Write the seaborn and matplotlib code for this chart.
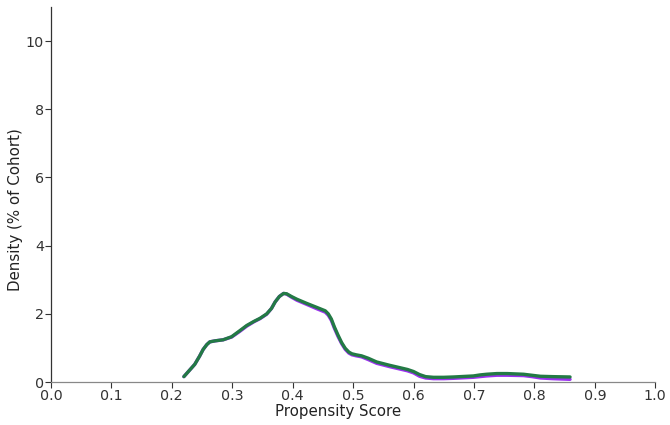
import matplotlib
matplotlib.use("Agg")
import matplotlib.pyplot as plt
import seaborn as sns
import pandas as pd

# Propensity score grid (x) and densities (% of cohort)
score = [0.220, 0.230, 0.238, 0.246, 0.252, 0.258, 0.263, 0.272, 0.285, 0.299,
         0.312, 0.324, 0.336, 0.346, 0.357, 0.365, 0.371, 0.378, 0.385, 0.390,
         0.398, 0.407, 0.423, 0.440, 0.454, 0.459, 0.464, 0.469, 0.475, 0.481,
         0.487, 0.493, 0.498, 0.505, 0.514, 0.525, 0.539, 0.561, 0.578, 0.590,
         0.600, 0.610, 0.620, 0.633, 0.650, 0.666, 0.699, 0.710, 0.721, 0.738,
         0.755, 0.782, 0.796, 0.810, 0.830, 0.859]
density_green = [0.16, 0.36, 0.52, 0.76, 0.96, 1.10, 1.18, 1.21, 1.24, 1.33,
                 1.50, 1.66, 1.78, 1.87, 2.00, 2.16, 2.35, 2.51, 2.60, 2.59,
                 2.51, 2.43, 2.31, 2.19, 2.09, 2.00, 1.85, 1.62, 1.38, 1.16,
                 0.99, 0.88, 0.83, 0.80, 0.77, 0.70, 0.59, 0.49, 0.42, 0.37,
                 0.31, 0.22, 0.16, 0.14, 0.14, 0.15, 0.18, 0.21, 0.23, 0.25,
                 0.25, 0.23, 0.20, 0.17, 0.16, 0.15]
density_purple = [0.16, 0.36, 0.52, 0.76, 0.96, 1.10, 1.18, 1.21, 1.24, 1.32,
                  1.48, 1.64, 1.77, 1.86, 1.99, 2.16, 2.35, 2.51, 2.60, 2.58,
                  2.49, 2.40, 2.28, 2.15, 2.05, 1.96, 1.81, 1.58, 1.34, 1.13,
                  0.96, 0.85, 0.80, 0.77, 0.74, 0.66, 0.55, 0.45, 0.38, 0.33,
                  0.27, 0.17, 0.12, 0.10, 0.10, 0.11, 0.14, 0.16, 0.18, 0.20,
                  0.20, 0.19, 0.16, 0.12, 0.10, 0.08]

x_ticks = [0.0, 0.1, 0.2, 0.3, 0.4, 0.5, 0.6, 0.7, 0.8, 0.9, 1.0]
y_ticks = [0, 2, 4, 6, 8, 10]

sns.set_style("ticks")
plt.rcParams['font.family'] = ['DejaVu Sans']

fig = plt.figure(figsize=(6.7, 4.25), dpi=100)
ax = fig.add_axes([0.076, 0.101, 0.902, 0.8825])

df_p = pd.DataFrame({"score": score, "density": density_purple})
df_g = pd.DataFrame({"score": score, "density": density_green})
sns.lineplot(data=df_p, x="score", y="density", ax=ax, color="#9b30f0",
             linewidth=2.4, solid_joinstyle="round", solid_capstyle="round")
sns.lineplot(data=df_g, x="score", y="density", ax=ax, color="#237a45",
             linewidth=2.4, solid_joinstyle="round", solid_capstyle="round")

ax.set_xlim(0, 1.0)
ax.set_ylim(0, 11)
ax.set_xticks(x_ticks)
ax.set_xticklabels([f"{t:.1f}" for t in x_ticks])
ax.set_yticks(y_ticks)
ax.set_xlabel("Propensity Score", fontsize=10.8, color="#222222")
ax.set_ylabel("Density (% of Cohort)", fontsize=10.8, color="#222222")
ax.xaxis.set_label_coords(0.475, -0.058)
ax.yaxis.set_label_coords(-0.046, 0.459)
ax.tick_params(axis="both", labelsize=10.3, colors="#333333", length=4, width=0.8, pad=1)
for s in ["top", "right"]:
    ax.spines[s].set_visible(False)
ax.spines["left"].set_color("#333333")
ax.spines["bottom"].set_color("#888888")
ax.spines["left"].set_linewidth(0.9)
ax.spines["bottom"].set_linewidth(0.9)

fig.savefig("out.png", dpi=100)
